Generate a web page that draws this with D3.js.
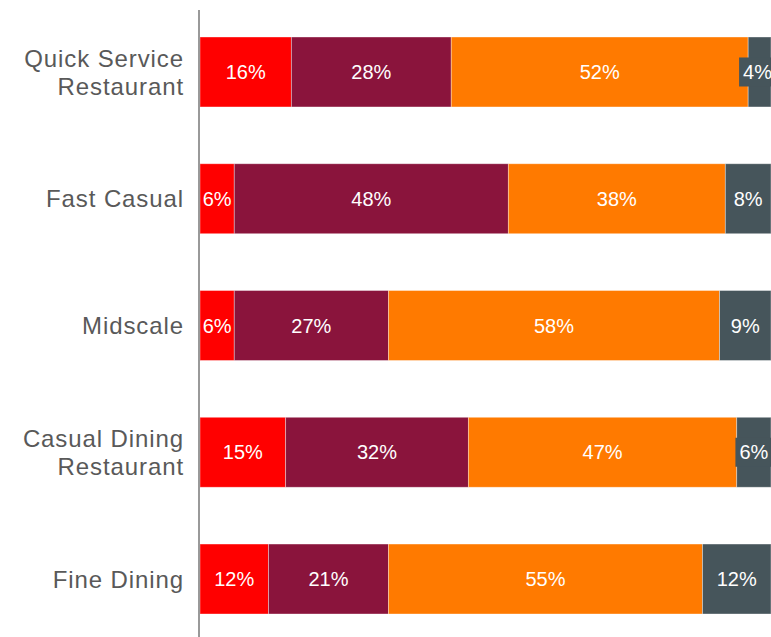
<!DOCTYPE html>
<html>
<head>
<meta charset="utf-8">
<script src="https://cdn.jsdelivr.net/npm/d3@7"></script>
<style>
  body { margin: 0; background: #fff; }
  svg { display: block; }
</style>
</head>
<body>
<svg id="chart" width="771" height="637"></svg>
<script>
const categories = [
    ["Quick Service", "Restaurant"],
    ["Fast Casual"],
    ["Midscale"],
    ["Casual Dining", "Restaurant"],
    ["Fine Dining"]
]
const seriesKeys = ["s1", "s2", "s3", "s4"]
const s1 = [16, 6, 6, 15, 12]
const s2 = [28, 48, 27, 32, 21]
const s3 = [52, 38, 58, 47, 55]
const s4 = [4, 8, 9, 6, 12]

const colors = ["#ff0000", "#8a143c", "#ff7a00", "#46555b"]

const LEFT = 200
const RIGHT = 771

const svg = d3.select("#chart");
const width = +svg.attr("width");
const height = +svg.attr("height");

const rows = categories.map((c, i) => ({
    name: c.join(" "),
    lines: c,
    s1: s1[i], s2: s2[i], s3: s3[i], s4: s4[i]
}));

const xScale = d3.scaleLinear()
    .domain([0, 100])
    .range([LEFT, RIGHT]);

const yScale = d3.scaleBand()
    .domain(rows.map(d => d.name))
    .range([10, 641])
    .paddingInner(0.448)
    .paddingOuter(0.213);

const stacked = d3.stack().keys(seriesKeys)(rows);

// bars
const layers = svg.selectAll(".layer")
    .data(stacked)
    .enter()
    .append("g")
    .attr("class", "layer")
    .attr("fill", (d, i) => colors[i]);

layers.selectAll("rect")
    .data(d => d)
    .enter()
    .append("rect")
    .attr("x", d => xScale(d[0]))
    .attr("y", d => yScale(d.data.name))
    .attr("width", d => xScale(d[1]) - xScale(d[0]))
    .attr("height", yScale.bandwidth())
    .attr("stroke", "#fff")
    .attr("stroke-opacity", 0.45)
    .attr("stroke-width", 0.8);

// value labels
const labelFont = "'Liberation Sans', Arial, sans-serif";
stacked.forEach(function (layer, li) {
    layer.forEach(function (d) {
        const x0 = xScale(d[0]), x1 = xScale(d[1]);
        const cy = yScale(d.data.name) + yScale.bandwidth() / 2;
        const g = svg.append("g");
        const t = g.append("text")
            .attr("x", (x0 + x1) / 2)
            .attr("y", cy)
            .attr("dy", "0.36em")
            .attr("text-anchor", "middle")
            .style("font-family", labelFont)
            .style("font-size", "20px")
            .style("fill", "#fff")
            .text((d[1] - d[0]) + "%");
        const tw = t.node().getComputedTextLength();
        // narrow last segment: label gets a small box of its own
        if (li === seriesKeys.length - 1 && tw + 6 > x1 - x0) {
            let cx = Math.min((x0 + x1) / 2, RIGHT - tw / 2 + 1);
            t.attr("x", cx);
            g.insert("rect", "text")
                .attr("x", cx - tw / 2 - 4)
                .attr("y", cy - 14.5)
                .attr("width", tw + 8)
                .attr("height", 29)
                .attr("fill", colors[li]);
        }
    });
});

// category labels
rows.forEach(function (d) {
    const cy = yScale(d.name) + yScale.bandwidth() / 2;
    const n = d.lines.length;
    const lh = 28;
    d.lines.forEach(function (line, i) {
        svg.append("text")
            .attr("x", 184)
            .attr("y", cy + (i - (n - 1) / 2) * lh)
            .attr("dy", "0.36em")
            .attr("text-anchor", "end")
            .style("font-family", labelFont)
            .style("font-size", "24px")
            .style("letter-spacing", "0.9px")
            .style("fill", "#595959")
            .text(line);
    });
});

// vertical axis line
svg.append("line")
    .attr("x1", LEFT - 1)
    .attr("x2", LEFT - 1)
    .attr("y1", 10)
    .attr("y2", height)
    .attr("stroke", "#999")
    .attr("stroke-width", 2);
</script>
</body>
</html>
